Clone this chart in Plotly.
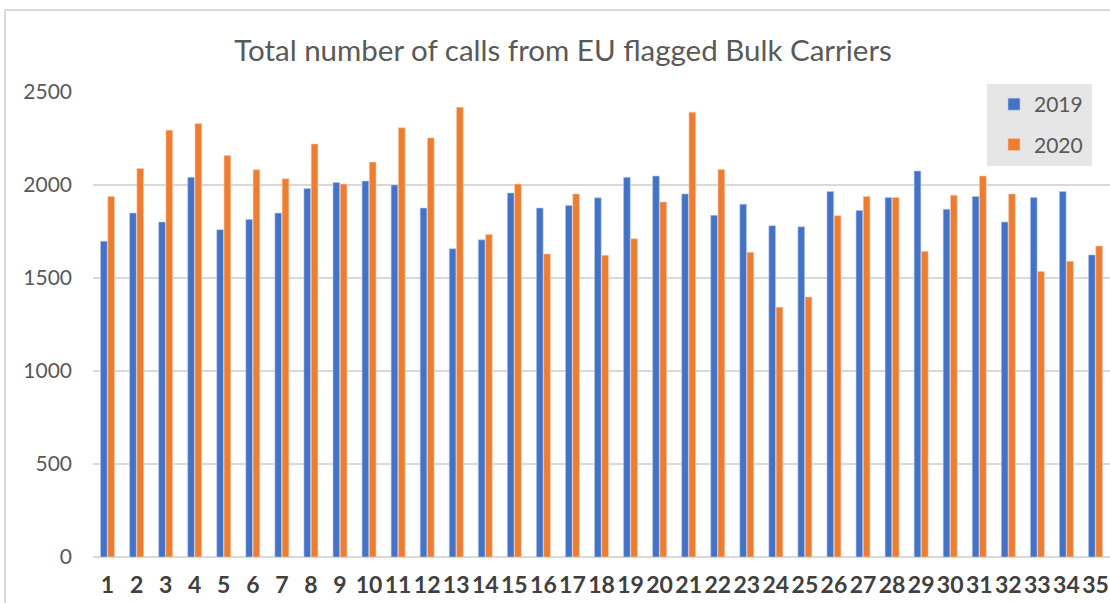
import plotly.graph_objects as go

categories = [str(i) for i in range(1, 36)]
values_2019 = [1698, 1849, 1801, 2041, 1760, 1815, 1849, 1981, 2013, 2021, 2000, 1876,
               1657, 1705, 1957, 1876, 1890, 1931, 2041, 2048, 1952, 1837, 1897, 1781,
               1775, 1965, 1863, 1933, 2075, 1870, 1938, 1801, 1933, 1965, 1624]
values_2020 = [1938, 2089, 2295, 2330, 2158, 2082, 2034, 2221, 2005, 2123, 2308, 2253,
               2418, 1734, 2005, 1629, 1952, 1622, 1711, 1909, 2391, 2084, 1638, 1343,
               1398, 1835, 1938, 1933, 1643, 1945, 2048, 1952, 1535, 1590, 1672]
y_ticks = [0, 500, 1000, 1500, 2000, 2500]

FONT = "Lato"
GRAY = "#595959"

fig = go.Figure()
fig.add_trace(go.Bar(x=categories, y=values_2019, name="2019", legendgroup="a",
                     marker=dict(color="#4472C4", line=dict(color="rgba(180,200,240,0.6)", width=1))))
fig.add_trace(go.Bar(x=categories, y=values_2020, name="2020", legendgroup="b",
                     marker=dict(color="#ED7D31", line=dict(color="rgba(250,200,170,0.6)", width=1))))

W, H = 1110, 603
L, R, T, B = 93, 0, 92, 46
pw, ph = W - L - R, H - T - B

def px(x):
    return (x - L) / pw

def py(y):
    return (H - B - y) / ph

fig.update_layout(
    width=W, height=H,
    margin=dict(l=L, r=R, t=T, b=B),
    paper_bgcolor="white", plot_bgcolor="white",
    barmode="group", bargap=0.5, bargroupgap=0.08,
    font=dict(family=FONT, color=GRAY),
    title=dict(text="Total number of calls from EU flagged Bulk Carriers",
               x=px(563), xref="paper", xanchor="center",
               y=1 - 51 / H, yanchor="middle",
               font=dict(family=FONT, size=29.5, color=GRAY)),
    legend=dict(x=px(994), y=py(84), xanchor="left", yanchor="top",
                bgcolor="rgba(0,0,0,0)", font=dict(size=21, color=GRAY),
                traceorder="grouped", tracegroupgap=10),
    xaxis=dict(type="category", showgrid=False, ticks="", showline=False,
               tickfont=dict(family=FONT, size=23, color="#404040", weight="bold"),
               ticklabelstandoff=12, range=[-0.5, 34.5]),
    yaxis=dict(range=[0, 2500], tickvals=y_ticks, showgrid=True,
               gridcolor="#d9d9d9", gridwidth=1.5, zeroline=True,
               zerolinecolor="#d9d9d9", zerolinewidth=1.5, showline=False,
               tickfont=dict(family=FONT, size=21, color=GRAY), ticks="",
               ticklabelstandoff=20),
    shapes=[
        dict(type="line", xref="paper", yref="paper", x0=px(5), x1=px(1110),
             y0=py(10), y1=py(10), line=dict(color="#d9d9d9", width=2)),
        dict(type="line", xref="paper", yref="paper", x0=px(5), x1=px(5),
             y0=py(10), y1=py(603), line=dict(color="#d9d9d9", width=2)),
        dict(type="rect", xref="paper", yref="paper", x0=px(987), x1=px(1092),
             y0=py(166), y1=py(84), fillcolor="#e6e6e6", line=dict(width=0),
             layer="above"),
    ],
)

fig.write_html("out.html", config={"displayModeBar": False},
               post_script="document.body.style.margin='0';")
